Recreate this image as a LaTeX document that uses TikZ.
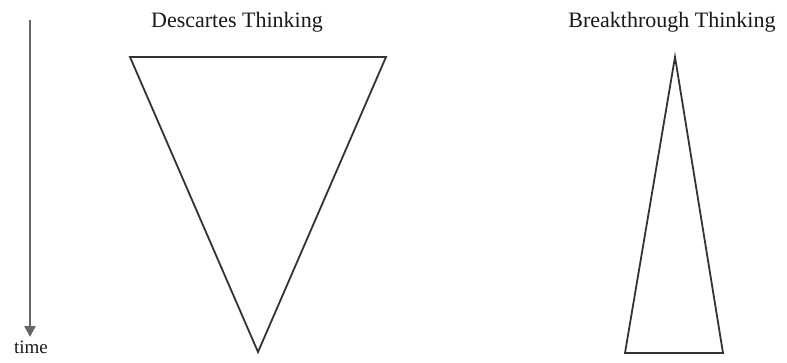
\documentclass[tikz,border=0pt]{standalone}
\usepackage{fontspec}
\setmainfont{Liberation Serif}
\usetikzlibrary{arrows.meta}
\begin{document}
\begin{tikzpicture}[x=1pt,y=-1pt,
  tri/.style={draw=black!80,line width=1.8pt,line join=miter},
  lbl/.style={font=\fontsize{22}{24}\selectfont,text=black!90,inner sep=0pt},
  tarrow/.style={draw=black!60,line width=2.4pt,-{Triangle[length=11pt,width=11pt]}}]
\useasboundingbox (0,0) rectangle (787,362);
\fill[white] (0,0) rectangle (787,362);
% time arrow
\coordinate (ts) at (30,20);
\coordinate (te) at (30,337);
\draw[tarrow] (ts) -- (te);
\node[lbl,font=\fontsize{19}{20}\selectfont,anchor=north] (time) at (31,341) {time};
% Descartes
\coordinate (d1) at (130,57);
\coordinate (d2) at (386,57);
\coordinate (d3) at (258,352);
\draw[tri] (d1) -- (d2) -- (d3) -- cycle;
\node[lbl] (dl) at (237,22) {Descartes Thinking};
% Breakthrough
\coordinate (b1) at (675,57);
\coordinate (b2) at (723,353);
\coordinate (b3) at (625,353);
\draw[tri] (b1) -- (b2) -- (b3) -- cycle;
\node[lbl] (bl) at (672,22) {Breakthrough Thinking};
\end{tikzpicture}
\end{document}
